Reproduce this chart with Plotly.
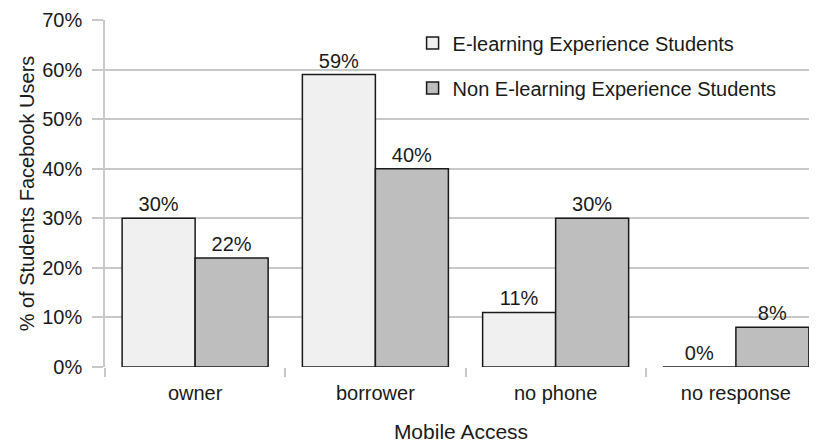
import plotly.graph_objects as go

categories = ["owner", "borrower", "no phone", "no response"]
elearning = [30, 59, 11, 0]
non_elearning = [22, 40, 30, 8]
y_ticks = [0, 10, 20, 30, 40, 50, 60, 70]

FONT = "Liberation Sans, Arial, sans-serif"
INK = "#1a1a1a"
GRID = "#c8c8c8"

fig = go.Figure()
fig.add_trace(go.Bar(
    x=categories, y=elearning, name="E-learning Experience Students",
    marker=dict(color="#f0f0f0", line=dict(color=INK, width=1.5)),
    text=[f"{v}%" for v in elearning], textposition="outside",
    legendgroup="a",
))
fig.add_trace(go.Bar(
    x=categories, y=non_elearning, name="Non E-learning Experience Students",
    marker=dict(color="#bebebe", line=dict(color=INK, width=1.5)),
    text=[f"{v}%" for v in non_elearning], textposition="outside",
    legendgroup="b",
))
fig.update_traces(cliponaxis=False, textfont=dict(size=20, color=INK, family=FONT))

# page body has an 8px default margin, so the margins are shifted to compensate
fig.update_layout(
    width=817, height=442,
    margin=dict(l=97, r=8, t=12, b=83),
    paper_bgcolor="white", plot_bgcolor="white",
    font=dict(family=FONT, size=20, color=INK),
    barmode="group", bargap=0.19, bargroupgap=0,
    legend=dict(
        x=0.432, y=0.99, xanchor="left", yanchor="top",
        bgcolor="rgba(0,0,0,0)", font=dict(size=20),
        traceorder="grouped", tracegroupgap=16,
    ),
)
fig.update_xaxes(
    range=[-0.5, 3.45], tickson="boundaries", ticks="outside", ticklen=9,
    tickcolor=GRID, tickwidth=1.5, showgrid=False, showline=False,
    tickfont=dict(size=20), automargin=False, ticklabelstandoff=12,
    title=dict(text="Mobile Access", font=dict(size=21), standoff=21),
)
fig.update_yaxes(
    range=[0, 70], tickvals=y_ticks, ticktext=[f"{v}%" for v in y_ticks],
    showgrid=True, gridcolor=GRID, gridwidth=1.5, zeroline=False,
    showline=True, linecolor=GRID, linewidth=1.5,
    ticks="outside", ticklen=11, tickcolor=GRID, tickwidth=1.5,
    tickfont=dict(size=20), automargin=False, ticklabelstandoff=6,
    title=dict(text="% of Students Facebook Users", font=dict(size=20), standoff=2),
)

fig.write_html("out.html")
